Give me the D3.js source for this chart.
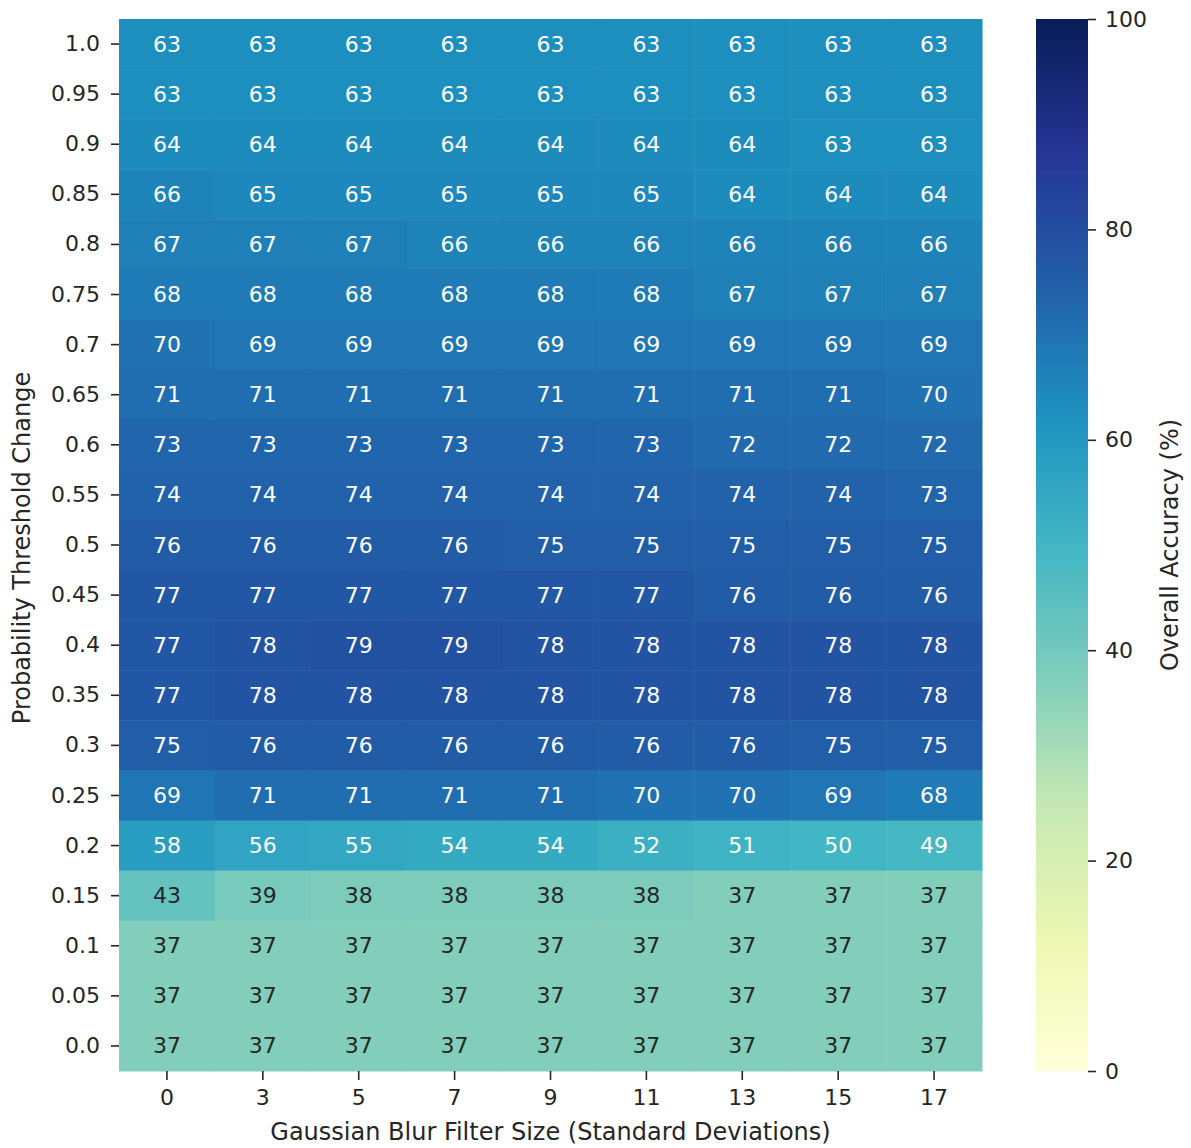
<!DOCTYPE html>
<html>
<head>
<meta charset="utf-8">
<script src="https://cdn.jsdelivr.net/npm/d3@7"></script>
<style>
  html, body { margin: 0; padding: 0; background: #fff; }
  svg { display: block; font-family: "DejaVu Sans", sans-serif; }
</style>
</head>
<body>
<svg id="chart" width="1191" height="1148"></svg>
<script>
// Heatmap of accuracy vs blur size and threshold change

const blurSizes  = ['0', '3', '5', '7', '9', '11', '13', '15', '17'];
const thresholds = ['1.0', '0.95', '0.9', '0.85', '0.8', '0.75', '0.7', '0.65', '0.6', '0.55',
                    '0.5', '0.45', '0.4', '0.35', '0.3', '0.25', '0.2', '0.15', '0.1', '0.05', '0.0'];

// one row per threshold, top to bottom
const accuracy = [
  [63, 63, 63, 63, 63, 63, 63, 63, 63],
  [63, 63, 63, 63, 63, 63, 63, 63, 63],
  [64, 64, 64, 64, 64, 64, 64, 63, 63],
  [66, 65, 65, 65, 65, 65, 64, 64, 64],
  [67, 67, 67, 66, 66, 66, 66, 66, 66],
  [68, 68, 68, 68, 68, 68, 67, 67, 67],
  [70, 69, 69, 69, 69, 69, 69, 69, 69],
  [71, 71, 71, 71, 71, 71, 71, 71, 70],
  [73, 73, 73, 73, 73, 73, 72, 72, 72],
  [74, 74, 74, 74, 74, 74, 74, 74, 73],
  [76, 76, 76, 76, 75, 75, 75, 75, 75],
  [77, 77, 77, 77, 77, 77, 76, 76, 76],
  [77, 78, 79, 79, 78, 78, 78, 78, 78],
  [77, 78, 78, 78, 78, 78, 78, 78, 78],
  [75, 76, 76, 76, 76, 76, 76, 75, 75],
  [69, 71, 71, 71, 71, 70, 70, 69, 68],
  [58, 56, 55, 54, 54, 52, 51, 50, 49],
  [43, 39, 38, 38, 38, 38, 37, 37, 37],
  [37, 37, 37, 37, 37, 37, 37, 37, 37],
  [37, 37, 37, 37, 37, 37, 37, 37, 37],
  [37, 37, 37, 37, 37, 37, 37, 37, 37]
];

const cbarTicks = [0, 20, 40, 60, 80, 100];

const TEXT = '#262626';
const FS_TICK = 22;
const FS_LABEL = 24;

// YlGnBu, linear through the 9 brewer stops (like matplotlib)
const stops = d3.schemeYlGnBu[9];
const color = d3.scaleLinear()
  .domain(d3.range(9).map(i => i * 100 / 8))
  .range(stops)
  .interpolate(d3.interpolateRgb)
  .clamp(true);

const svg = d3.select('#chart');

const plot = { left: 119, right: 982, top: 19, bottom: 1071 };

const x = d3.scaleBand().domain(blurSizes).range([plot.left, plot.right]);
const y = d3.scaleBand().domain(thresholds).range([plot.top, plot.bottom]);

/* ── cells ─────────────────────────────────────────────── */
const cells = [];
accuracy.forEach((row, ri) => row.forEach((v, ci) => {
  cells.push({ t: thresholds[ri], b: blurSizes[ci], v });
}));

svg.append('g').selectAll('rect').data(cells).join('rect')
  .attr('x', d => x(d.b))
  .attr('y', d => y(d.t))
  .attr('width', x.bandwidth() + 0.5)
  .attr('height', y.bandwidth() + 0.5)
  .attr('fill', d => color(d.v));

// annotation colour: seaborn picks dark text on light cells
function textColor(v) {
  const c = d3.rgb(color(v));
  const lin = ch => { ch /= 255; return ch <= 0.03928 ? ch / 12.92 : Math.pow((ch + 0.055) / 1.055, 2.4); };
  const lum = 0.2126 * lin(c.r) + 0.7152 * lin(c.g) + 0.0722 * lin(c.b);
  return lum > 0.408 ? TEXT : '#ffffff';
}

svg.append('g').selectAll('text').data(cells).join('text')
  .attr('x', d => x(d.b) + x.bandwidth() / 2)
  .attr('y', d => y(d.t) + y.bandwidth() / 2)
  .attr('text-anchor', 'middle')
  .attr('dominant-baseline', 'central')
  .attr('font-size', FS_TICK)
  .attr('fill', d => textColor(d.v))
  .text(d => d.v);

/* ── axes ──────────────────────────────────────────────── */
const xAxis = svg.append('g')
  .attr('transform', `translate(0,${plot.bottom})`)
  .call(d3.axisBottom(x).tickSize(9).tickPadding(9));
const yAxis = svg.append('g')
  .attr('transform', `translate(${plot.left},0)`)
  .call(d3.axisLeft(y).tickSize(8).tickPadding(11));

[xAxis, yAxis].forEach(a => {
  a.select('.domain').remove();
  a.selectAll('line').attr('stroke', TEXT).attr('stroke-width', 1.6);
  a.selectAll('text').attr('font-size', FS_TICK).attr('fill', TEXT).attr('font-family', '"DejaVu Sans", sans-serif');
});

svg.append('text')
  .attr('x', (plot.left + plot.right) / 2)
  .attr('y', 1132)
  .attr('text-anchor', 'middle')
  .attr('dominant-baseline', 'central')
  .attr('font-size', FS_LABEL)
  .attr('fill', TEXT)
  .text('Gaussian Blur Filter Size (Standard Deviations)');

svg.append('text')
  .attr('transform', `translate(22,${(plot.top + plot.bottom) / 2 + 3}) rotate(-90)`)
  .attr('text-anchor', 'middle')
  .attr('dominant-baseline', 'central')
  .attr('font-size', FS_LABEL)
  .attr('fill', TEXT)
  .text('Probability Threshold Change');

/* ── colorbar ──────────────────────────────────────────── */
const cb = { left: 1036, width: 52 };
const cy = d3.scaleLinear().domain([0, 100]).range([plot.bottom, plot.top]);

const grad = svg.append('defs').append('linearGradient')
  .attr('id', 'cbar-grad')
  .attr('x1', 0).attr('y1', 1).attr('x2', 0).attr('y2', 0);
grad.selectAll('stop').data(d3.range(0, 101, 2)).join('stop')
  .attr('offset', d => d / 100)
  .attr('stop-color', d => color(d));

svg.append('rect')
  .attr('x', cb.left)
  .attr('y', plot.top)
  .attr('width', cb.width)
  .attr('height', plot.bottom - plot.top)
  .attr('fill', 'url(#cbar-grad)');

const cAxis = svg.append('g')
  .attr('transform', `translate(${cb.left + cb.width},0)`)
  .call(d3.axisRight(cy).tickValues(cbarTicks).tickSize(8).tickPadding(9));
cAxis.select('.domain').remove();
cAxis.selectAll('line').attr('stroke', TEXT).attr('stroke-width', 1.6);
cAxis.selectAll('text').attr('font-size', FS_TICK).attr('fill', TEXT).attr('font-family', '"DejaVu Sans", sans-serif');

svg.append('text')
  .attr('transform', `translate(1170,${(plot.top + plot.bottom) / 2}) rotate(-90)`)
  .attr('text-anchor', 'middle')
  .attr('dominant-baseline', 'central')
  .attr('font-size', FS_LABEL)
  .attr('fill', TEXT)
  .text('Overall Accuracy (%)');
</script>
</body>
</html>
